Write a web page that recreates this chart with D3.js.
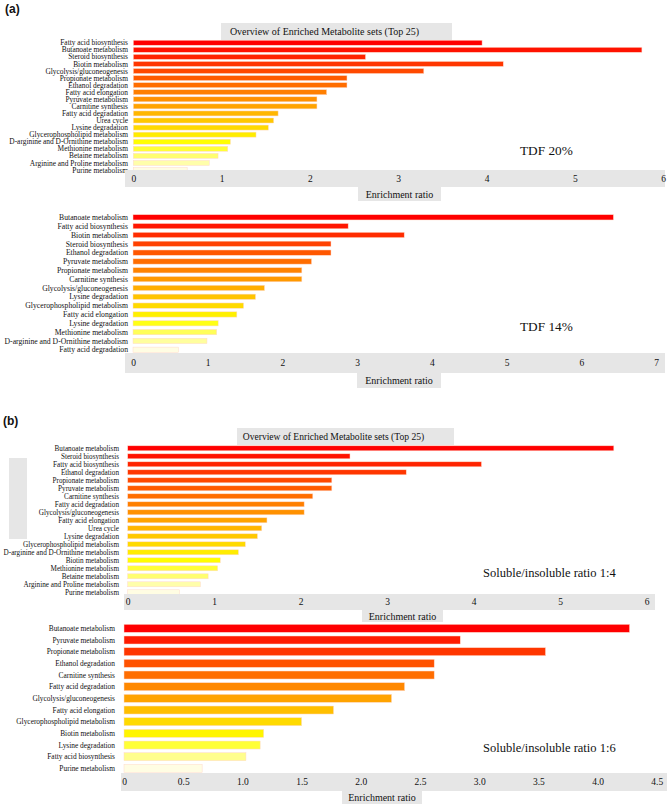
<!DOCTYPE html>
<html>
<head>
<meta charset="utf-8">
<script src="https://cdn.jsdelivr.net/npm/d3@7"></script>
<style>
  body { margin: 0; background: #fff; }
  text { font-family: "Liberation Serif", "Times New Roman", serif; fill: #111; }
</style>
</head>
<body>
<script>
// ---- data ----
let a1Labels = ["Fatty acid biosynthesis", "Butanoate metabolism", "Steroid biosynthesis", "Biotin metabolism",
  "Glycolysis/gluconeogenesis", "Propionate metabolism", "Ethanol degradation", "Fatty acid elongation",
  "Pyruvate metabolism", "Carnitine synthesis", "Fatty acid degradation", "Urea cycle", "Lysine degradation",
  "Glycerophospholipid metabolism", "D-arginine and D-Ornithine metabolism", "Methionine metabolism",
  "Betaine metabolism", "Arginine and Proline metabolism", "Purine metabolism"];
let a1Values = [3.95, 5.76, 2.63, 4.19, 3.29, 2.42, 2.42, 2.19, 2.08, 2.08, 1.64, 1.59, 1.53, 1.39, 1.10, 1.07, 0.96, 0.86, 0.61];
let a1Ticks = [0, 1, 2, 3, 4, 5, 6];

let a2Labels = ["Butanoate metabolism", "Fatty acid biosynthesis", "Biotin metabolism", "Steroid biosynthesis",
  "Ethanol degradation", "Pyruvate metabolism", "Propionate metabolism", "Carnitine synthesis",
  "Glycolysis/gluconeogenesis", "Lysine degradation", "Glycerophospholipid metabolism", "Fatty acid elongation",
  "Lysine degradation", "Methionine metabolism", "D-arginine and D-Ornithine metabolism", "Fatty acid degradation"];
let a2Values = [6.43, 2.88, 3.63, 2.65, 2.65, 2.39, 2.26, 2.26, 1.76, 1.64, 1.48, 1.39, 1.14, 1.12, 0.99, 0.61];
let a2Ticks = [0, 1, 2, 3, 4, 5, 6, 7];

let b1Labels = ["Butanoate metabolism", "Steroid biosynthesis", "Fatty acid biosynthesis", "Ethanol degradation",
  "Propionate metabolism", "Pyruvate metabolism", "Carnitine synthesis", "Fatty acid degradation",
  "Glycolysis/gluconeogenesis", "Fatty acid elongation", "Urea cycle", "Lysine degradation",
  "Glycerophospholipid metabolism", "D-arginine and D-Ornithine metabolism", "Biotin metabolism",
  "Methionine metabolism", "Betaine metabolism", "Arginine and Proline metabolism", "Purine metabolism"];
let b1Values = [5.62, 2.57, 4.09, 3.22, 2.36, 2.36, 2.14, 2.04, 2.04, 1.61, 1.55, 1.50, 1.36, 1.28, 1.07, 1.04, 0.93, 0.84, 0.60];
let b1Ticks = [0, 1, 2, 3, 4, 5, 6];

let b2Labels = ["Butanoate metabolism", "Pyruvate metabolism", "Propionate metabolism", "Ethanol degradation",
  "Carnitine synthesis", "Fatty acid degradation", "Glycolysis/gluconeogenesis", "Fatty acid elongation",
  "Glycerophospholipid metabolism", "Biotin metabolism", "Lysine degradation", "Fatty acid biosynthesis",
  "Purine metabolism"];
let b2Values = [4.27, 2.84, 3.56, 2.62, 2.62, 2.37, 2.26, 1.77, 1.50, 1.18, 1.15, 1.03, 0.66];
let b2Ticks = [0, 0.5, 1.0, 1.5, 2.0, 2.5, 3.0, 3.5, 4.0, 4.5];

let titleText = "Overview of Enriched Metabolite sets (Top 25)";
let axisTitle = "Enrichment ratio";

// ---- drawing ----
let Svg = d3.select("body").append("svg")
  .attr("width", 667)
  .attr("height", 804);

let Grey = "#e6e6e6";

function drawPanel(labels, values, ticks, L) {
  let g = Svg.append("g");

  let y = d3.scaleBand()
    .domain(d3.range(labels.length))
    .range([L.rowTop, L.rowTop + L.step * labels.length]);

  let x = d3.scaleLinear()
    .domain([0, ticks[ticks.length - 1]])
    .range([L.x0, L.x1]);

  // colour by rank: red -> yellow -> pale
  let n = labels.length - 1;
  let colour = d3.scaleLinear()
    .domain([0, 0.78 * n, n])
    .range(["#ff0000", "#ffff00", "#fffde3"]);

  if (L.title) {
    g.append("rect")
      .attr("x", L.title[0]).attr("y", L.title[1])
      .attr("width", L.title[2]).attr("height", L.title[3])
      .attr("fill", Grey);
    g.append("text")
      .attr("x", L.title[0] + L.title[2] / 2 - 12)
      .attr("y", L.title[1] + L.title[3] / 2)
      .attr("dy", "0.35em")
      .attr("text-anchor", "middle")
      .style("font-size", L.titleSize + "px")
      .text(titleText);
  }

  g.selectAll("rect.bar")
    .data(values)
    .enter()
    .append("rect")
    .attr("class", "bar")
    .attr("x", x(0))
    .attr("y", (d, i) => y(i) + (L.step - L.barH) / 2)
    .attr("width", d => x(d) - x(0))
    .attr("height", L.barH)
    .attr("fill", (d, i) => colour(i))
    .attr("stroke", "#ffd9c9")
    .attr("stroke-width", 0.5);

  g.selectAll("text.lab")
    .data(labels)
    .enter()
    .append("text")
    .attr("class", "lab")
    .attr("x", L.labelX)
    .attr("y", (d, i) => y(i) + L.step / 2)
    .attr("dy", "0.35em")
    .attr("text-anchor", "end")
    .style("font-size", L.labelSize + "px")
    .text(d => d);

  // grey axis band
  g.append("rect")
    .attr("x", L.band[0]).attr("y", L.band[1])
    .attr("width", L.band[2] - L.band[0]).attr("height", L.band[3] - L.band[1])
    .attr("fill", Grey);

  let axis = d3.axisBottom(x)
    .tickValues(ticks)
    .tickSize(0)
    .tickPadding(0)
    .tickFormat(d => L.decimals && d !== 0 ? d.toFixed(1) : d);

  let ax = g.append("g")
    .attr("transform", `translate(0,${(L.band[1] + L.band[3]) / 2})`)
    .call(axis);
  ax.select(".domain").remove();
  ax.selectAll("text")
    .attr("dy", "0.35em")
    .attr("fill", "#222")
    .style("font-family", '"Liberation Serif", "Times New Roman", serif')
    .style("font-size", "9.5px");

  g.append("rect")
    .attr("x", L.er[0]).attr("y", L.er[1])
    .attr("width", L.er[2] - L.er[0]).attr("height", L.er[3] - L.er[1])
    .attr("fill", Grey);
  g.append("text")
    .attr("x", (L.er[0] + L.er[2]) / 2)
    .attr("y", (L.er[1] + L.er[3]) / 2)
    .attr("dy", "0.35em")
    .attr("text-anchor", "middle")
    .style("font-size", "10px")
    .text(axisTitle);

  g.append("text")
    .attr("x", L.note[0])
    .attr("y", L.note[1])
    .style("font-size", L.noteSize + "px")
    .text(L.noteText);
}

drawPanel(a1Labels, a1Values, a1Ticks, {
  rowTop: 39.2, step: 7.07, barH: 5, x0: 133.3, x1: 663.1, labelX: 128, labelSize: 7.4,
  band: [125, 170, 665, 187], er: [358, 187, 441, 201],
  title: [221, 23, 231, 17], titleSize: 10,
  note: [520, 155], noteSize: 13.3, noteText: "TDF 20%"
});

drawPanel(a2Labels, a2Values, a2Ticks, {
  rowTop: 212.9, step: 8.83, barH: 5.3, x0: 133, x1: 656, labelX: 128, labelSize: 7.7,
  band: [125, 353, 665, 373], er: [357, 373, 441, 388],
  note: [520, 331], noteSize: 13.3, noteText: "TDF 14%"
});

drawPanel(b1Labels, b1Values, b1Ticks, {
  rowTop: 444.3, step: 8.0, barH: 5, x0: 127.7, x1: 646.7, labelX: 119, labelSize: 7.2,
  band: [124, 594, 655, 610], er: [362, 610, 443, 622],
  title: [237, 428, 217, 17], titleSize: 9.6,
  note: [483, 577], noteSize: 12.5, noteText: "Soluble/insoluble ratio 1:4"
});

drawPanel(b2Labels, b2Values, b2Ticks, {
  rowTop: 622.5, step: 11.67, barH: 8, x0: 124, x1: 656.8, labelX: 115, labelSize: 7.4, decimals: true,
  band: [121, 773, 667, 791], er: [342, 791, 422, 804],
  note: [483, 752], noteSize: 12.5, noteText: "Soluble/insoluble ratio 1:6"
});

// empty grey block left of panel (b)
Svg.append("rect")
  .attr("x", 9).attr("y", 458).attr("width", 18).attr("height", 81)
  .attr("fill", Grey);

// panel letters
Svg.append("text").attr("x", 5).attr("y", 13)
  .style("font-family", '"Liberation Sans", Arial, sans-serif')
  .style("font-weight", "bold").style("font-size", "12px")
  .text("(a)");
Svg.append("text").attr("x", 3).attr("y", 425)
  .style("font-family", '"Liberation Sans", Arial, sans-serif')
  .style("font-weight", "bold").style("font-size", "12px")
  .text("(b)");
</script>
</body>
</html>
